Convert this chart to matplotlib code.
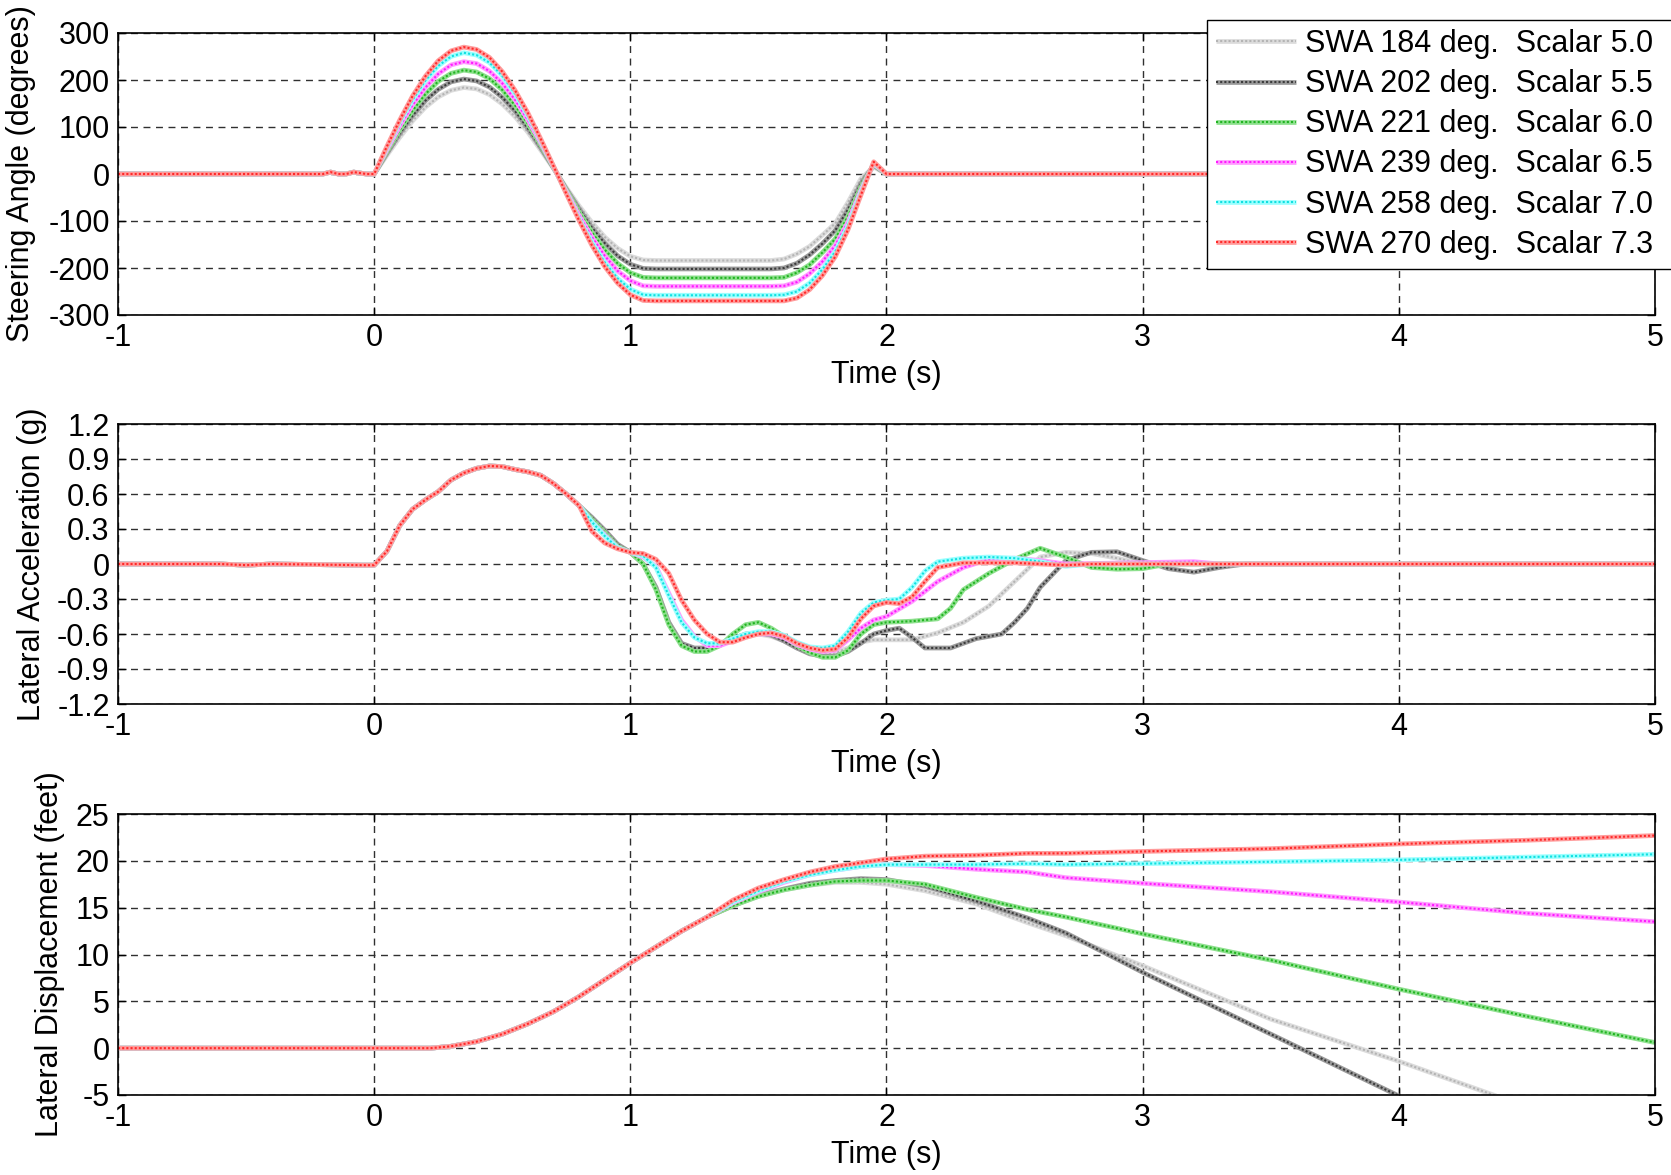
import numpy as np
import matplotlib
matplotlib.use('Agg')
import matplotlib.pyplot as plt

plt.rcParams['font.family'] = ['Liberation Sans', 'DejaVu Sans']
plt.rcParams['axes.unicode_minus'] = False

labels = ['SWA 184 deg.  Scalar 5.0', 'SWA 202 deg.  Scalar 5.5',
          'SWA 221 deg.  Scalar 6.0', 'SWA 239 deg.  Scalar 6.5',
          'SWA 258 deg.  Scalar 7.0', 'SWA 270 deg.  Scalar 7.3']
colors = ['#b4b4b4', '#3c3c3c', '#22b422', '#ff1aff', '#10e0e0', '#ff2a2a']
glow = ['#dcdcdc', '#9a9a9a', '#8ee08e', '#ff9cff', '#9cffff', '#ff9c9c']

# ---- steering wheel angle (deg) ----
swa_t = [-1.0, -0.2, -0.17, -0.14, -0.11, -0.08, -0.03,
         0.0, 0.05, 0.1, 0.15, 0.2, 0.25, 0.3, 0.35, 0.4, 0.45, 0.5, 0.55,
         0.6, 0.65, 0.7, 0.75, 0.8, 0.85, 0.9, 0.95, 1.0, 1.05, 1.1,
         1.55, 1.6, 1.65, 1.7, 1.75, 1.8, 1.85, 1.9, 1.95, 2.0, 5.0]
swa_pre = [0, 0, 4, 0, 0, 4, 0]
swa_184 = swa_pre + [0, 40, 78, 113, 142, 164, 178, 184, 181, 169, 149, 122, 89, 51, 12,
                     -29, -68, -103, -134, -158, -175, -183, -184,
                     -184, -181, -170, -154, -130, -105, -60, -10, 15, 0, 0]
swa_202 = swa_pre + [0, 44, 86, 124, 156, 180, 196, 202, 198, 185, 163, 134, 97, 56, 13,
                     -32, -74, -114, -147, -174, -192, -201, -202,
                     -202, -200, -190, -172, -148, -120, -75, -20, 18, 0, 0]
swa_221 = swa_pre + [0, 48, 94, 135, 170, 197, 214, 221, 217, 203, 179, 146, 107, 62, 14,
                     -34, -81, -124, -161, -190, -210, -220, -221,
                     -221, -220, -210, -193, -167, -138, -90, -28, 20, 0, 0]
swa_239 = swa_pre + [0, 52, 102, 147, 184, 213, 232, 239, 235, 219, 193, 158, 115, 67, 15,
                     -37, -88, -134, -174, -206, -227, -238, -239,
                     -239, -238, -230, -212, -186, -152, -102, -35, 22, 0, 0]
swa_258 = swa_pre + [0, 56, 110, 158, 199, 230, 250, 258, 253, 237, 209, 171, 124, 72, 16,
                     -40, -95, -145, -188, -222, -245, -257, -258,
                     -258, -257, -250, -232, -203, -165, -110, -40, 24, 0, 0]
swa_270 = swa_pre + [0, 59, 115, 166, 208, 241, 262, 270, 265, 248, 218, 178, 130, 75, 17,
                     -42, -99, -152, -197, -232, -257, -269, -270,
                     -270, -270, -264, -246, -216, -176, -118, -45, 26, 0, 0]

# ---- lateral acceleration (g) ----
acc_t0 = [-1.0, -0.6, -0.5, -0.4, -0.05, 0.0, 0.05, 0.1, 0.15, 0.2, 0.25, 0.3, 0.35,
          0.4, 0.45, 0.5, 0.55, 0.6, 0.65, 0.7, 0.75, 0.8]
acc_v0 = [0.0, 0.0, -0.01, 0.0, -0.01, -0.01, 0.11, 0.33, 0.47, 0.55, 0.62, 0.72, 0.78,
          0.82, 0.84, 0.835, 0.81, 0.79, 0.76, 0.69, 0.6, 0.5]

acc_t_184 = [0.85, 0.9, 0.95, 1.0, 1.05, 1.1, 1.15, 1.2, 1.25, 1.3, 1.35, 1.4, 1.45, 1.5,
             1.55, 1.6, 1.65, 1.7, 1.75, 1.8, 1.85, 1.9, 1.95, 2.0, 2.1, 2.2, 2.3, 2.4,
             2.5, 2.6, 2.7, 2.8, 2.9, 3.0, 5.0]
acc_184 = [0.38, 0.27, 0.16, 0.1, 0.0, -0.2, -0.5, -0.68, -0.73, -0.72, -0.69, -0.64, -0.61,
           -0.6, -0.62, -0.66, -0.72, -0.76, -0.77, -0.76, -0.72, -0.67, -0.65, -0.65, -0.65,
           -0.59, -0.5, -0.36, -0.15, 0.06, 0.1, 0.09, 0.05, 0.0, 0.0]
acc_t_202 = [0.85, 0.9, 0.95, 1.0, 1.05, 1.1, 1.15, 1.2, 1.25, 1.3, 1.35, 1.4, 1.45, 1.5,
             1.55, 1.6, 1.65, 1.7, 1.75, 1.8, 1.85, 1.9, 1.95, 2.0, 2.05, 2.1, 2.15, 2.25,
             2.35, 2.45, 2.5, 2.55, 2.6, 2.7, 2.8, 2.9, 3.0, 3.1, 3.2, 3.3, 3.4, 5.0]
acc_202 = [0.4, 0.29, 0.17, 0.1, 0.0, -0.2, -0.5, -0.68, -0.72, -0.72, -0.69, -0.64, -0.6,
           -0.59, -0.61, -0.66, -0.72, -0.77, -0.79, -0.79, -0.75, -0.68, -0.6, -0.57, -0.55,
           -0.63, -0.72, -0.72, -0.64, -0.6, -0.5, -0.38, -0.2, 0.03, 0.1, 0.105, 0.03,
           -0.04, -0.07, -0.03, 0.0, 0.0]
acc_t_221 = [0.85, 0.9, 0.95, 1.0, 1.05, 1.1, 1.15, 1.2, 1.25, 1.3, 1.35, 1.4, 1.45, 1.5,
             1.55, 1.6, 1.65, 1.7, 1.75, 1.8, 1.85, 1.9, 1.95, 2.0, 2.1, 2.2, 2.25, 2.3,
             2.4, 2.5, 2.6, 2.7, 2.8, 2.9, 3.0, 3.1, 5.0]
acc_221 = [0.38, 0.27, 0.15, 0.1, 0.0, -0.22, -0.52, -0.7, -0.75, -0.75, -0.7, -0.6, -0.52,
           -0.5, -0.55, -0.62, -0.7, -0.76, -0.8, -0.8, -0.74, -0.6, -0.52, -0.5, -0.49,
           -0.47, -0.38, -0.22, -0.08, 0.04, 0.135, 0.06, -0.03, -0.045, -0.04, 0.0, 0.0]
acc_t_239 = [0.85, 0.9, 0.95, 1.0, 1.05, 1.1, 1.15, 1.2, 1.25, 1.3, 1.35, 1.4, 1.45, 1.5,
             1.55, 1.6, 1.65, 1.7, 1.75, 1.8, 1.85, 1.9, 1.95, 2.0, 2.1, 2.2, 2.3, 2.4,
             2.5, 2.6, 2.7, 3.2, 3.3, 5.0]
acc_239 = [0.36, 0.25, 0.14, 0.1, 0.06, -0.02, -0.25, -0.48, -0.62, -0.7, -0.7, -0.66, -0.62,
           -0.6, -0.6, -0.63, -0.69, -0.73, -0.75, -0.74, -0.65, -0.55, -0.48, -0.45, -0.32,
           -0.15, -0.03, 0.04, 0.05, 0.03, 0.0, 0.02, 0.0, 0.0]
acc_t_258 = [0.85, 0.9, 0.95, 1.0, 1.05, 1.1, 1.15, 1.2, 1.25, 1.3, 1.35, 1.4, 1.45, 1.5,
             1.55, 1.6, 1.65, 1.7, 1.75, 1.8, 1.85, 1.9, 1.95, 2.0, 2.05, 2.1, 2.15, 2.2,
             2.3, 2.4, 2.5, 2.6, 2.7, 2.8, 5.0]
acc_258 = [0.36, 0.24, 0.14, 0.1, 0.07, -0.03, -0.27, -0.5, -0.63, -0.68, -0.68, -0.64, -0.6,
           -0.58, -0.58, -0.61, -0.67, -0.71, -0.72, -0.7, -0.58, -0.42, -0.33, -0.31, -0.3,
           -0.2, -0.06, 0.02, 0.05, 0.06, 0.05, 0.02, -0.02, 0.0, 0.0]
acc_t_270 = [0.85, 0.9, 0.95, 1.0, 1.05, 1.1, 1.15, 1.2, 1.25, 1.3, 1.35, 1.4, 1.45, 1.5,
             1.55, 1.6, 1.65, 1.7, 1.75, 1.8, 1.85, 1.9, 1.95, 2.0, 2.05, 2.1, 2.15, 2.2,
             2.3, 2.5, 2.6, 2.7, 2.8, 5.0]
acc_270 = [0.28, 0.18, 0.13, 0.1, 0.09, 0.04, -0.08, -0.31, -0.48, -0.6, -0.67, -0.67, -0.63,
           -0.6, -0.59, -0.62, -0.68, -0.72, -0.74, -0.73, -0.63, -0.47, -0.36, -0.33, -0.34,
           -0.28, -0.15, -0.03, 0.01, 0.01, 0.0, -0.01, 0.0, 0.0]

# ---- lateral displacement (feet) ----
disp_t0 = [-1.0, 0.22, 0.3, 0.4, 0.5, 0.6, 0.7, 0.8, 0.9, 1.0, 1.1, 1.2, 1.3]
disp_v0 = [0.0, 0.0, 0.2, 0.7, 1.5, 2.6, 3.9, 5.5, 7.3, 9.1, 10.8, 12.5, 14.0]

disp_t_184 = [1.4, 1.5, 1.6, 1.7, 1.8, 1.9, 2.0, 2.15, 2.35, 2.55, 2.7, 3.0, 3.5, 4.0, 4.38]
disp_184 = [15.2, 16.2, 16.9, 17.4, 17.7, 17.7, 17.5, 16.8, 15.4, 13.4, 12.0, 8.8, 3.1, -1.4, -5.1]
disp_t_202 = [1.4, 1.5, 1.6, 1.7, 1.8, 1.9, 2.0, 2.15, 2.35, 2.55, 2.7, 3.0, 3.5, 4.0]
disp_202 = [15.2, 16.3, 17.0, 17.6, 17.9, 18.1, 18.0, 17.3, 15.7, 13.9, 12.3, 8.1, 1.5, -5.1]
disp_t_221 = [1.4, 1.5, 1.6, 1.7, 1.8, 1.9, 2.0, 2.15, 2.35, 2.55, 2.7, 3.0, 3.5, 4.0, 4.5, 5.0]
disp_221 = [15.2, 16.2, 16.9, 17.4, 17.8, 17.9, 17.9, 17.5, 16.1, 14.8, 14.0, 12.2, 9.4, 6.3, 3.4, 0.6]
disp_t_239 = [1.4, 1.5, 1.6, 1.7, 1.8, 1.9, 2.0, 2.15, 2.35, 2.55, 2.7, 3.0, 3.5, 4.0, 4.5, 5.0]
disp_239 = [15.5, 16.7, 17.7, 18.5, 19.0, 19.4, 19.6, 19.5, 19.1, 18.8, 18.2, 17.6, 16.7, 15.6, 14.4, 13.5]
disp_t_258 = [1.4, 1.5, 1.6, 1.7, 1.8, 1.9, 2.0, 2.15, 2.35, 2.55, 2.7, 3.0, 3.5, 4.0, 4.5, 5.0]
disp_258 = [15.6, 16.8, 17.8, 18.5, 19.0, 19.4, 19.6, 19.6, 19.6, 19.7, 19.6, 19.7, 19.9, 20.1, 20.4, 20.7]
disp_t_270 = [1.4, 1.5, 1.6, 1.7, 1.8, 1.9, 2.0, 2.15, 2.35, 2.55, 2.7, 3.0, 3.5, 4.0, 4.5, 5.0]
disp_270 = [15.8, 17.1, 18.0, 18.8, 19.4, 19.8, 20.2, 20.5, 20.6, 20.8, 20.8, 21.0, 21.3, 21.8, 22.2, 22.7]

swa_series = [swa_184, swa_202, swa_221, swa_239, swa_258, swa_270]
acc_series = [(acc_t_184, acc_184), (acc_t_202, acc_202), (acc_t_221, acc_221),
              (acc_t_239, acc_239), (acc_t_258, acc_258), (acc_t_270, acc_270)]
disp_series = [(disp_t_184, disp_184), (disp_t_202, disp_202), (disp_t_221, disp_221),
               (disp_t_239, disp_239), (disp_t_258, disp_258), (disp_t_270, disp_270)]

FS = 22
W, H = 1671, 1175
fig = plt.figure(figsize=(W / 100, H / 100), dpi=100)

def make_axes(top, bottom):
    return fig.add_axes([118 / W, 1 - bottom / H, (1655 - 118) / W, (bottom - top) / H])

ax1 = make_axes(33, 315)
ax2 = make_axes(424, 704)
ax3 = make_axes(814, 1095)


def draw(ax, t, v, i):
    # light solid core with a dotted darker line on top (matlab dot-marker look)
    g, = ax.plot(t, v, color=glow[i], lw=3.4, solid_capstyle='butt')
    d, = ax.plot(t, v, color=colors[i], lw=1.5, ls=(0, (1.0, 1.0)))
    return (g, d)


handles = []
for i in range(6):
    handles.append(draw(ax1, swa_t, swa_series[i], i))
    t, v = acc_series[i]
    draw(ax2, acc_t0 + t, acc_v0 + v, i)
    t, v = disp_series[i]
    draw(ax3, disp_t0 + t, disp_v0 + v, i)

ax1.set_ylim(-300, 300)
ax1.set_yticks(np.arange(-300, 301, 100))
ax1.set_ylabel('Steering Angle (degrees)', fontsize=FS)
ax1.yaxis.set_label_coords(-0.0534, 0.5)

acc_ticks = [-1.2, -0.9, -0.6, -0.3, 0, 0.3, 0.6, 0.9, 1.2]
ax2.set_ylim(-1.2, 1.2)
ax2.set_yticks(acc_ticks)
ax2.set_yticklabels(['%g' % v for v in acc_ticks])
ax2.set_ylabel('Lateral Acceleration (g)', fontsize=FS)
ax2.yaxis.set_label_coords(-0.046, 0.5)

ax3.set_ylim(-5, 25)
ax3.set_yticks(np.arange(-5, 26, 5))
ax3.set_ylabel('Lateral Displacement (feet)', fontsize=FS)
ax3.yaxis.set_label_coords(-0.0345, 0.5)

for ax in (ax1, ax2, ax3):
    ax.set_xlim(-1, 5)
    ax.set_xticks(range(-1, 6))
    ax.set_xlabel('Time (s)', fontsize=FS)
    ax.xaxis.set_label_coords(0.5, -0.16)
    ax.grid(True, color='#303030', lw=1.0, ls=(0, (5, 4)))
    ax.tick_params(direction='in', length=6, width=1, labelsize=FS, pad=6,
                   top=True, right=True)
    for s in ax.spines.values():
        s.set_linewidth(1.2)

# legend box runs past the right edge of the figure, as in the original
leg = ax1.legend(handles, labels, loc='upper left', mode='expand',
                 bbox_to_anchor=(1207 / W, 1 - 20 / H, 520 / W, 0),
                 bbox_transform=fig.transFigure,
                 fontsize=FS, frameon=True, fancybox=False, framealpha=1,
                 edgecolor='black', borderaxespad=0, borderpad=0.3,
                 handlelength=2.6, handletextpad=0.3, labelspacing=0.33)
leg.get_frame().set_linewidth(1.0)

fig.savefig('out.png', dpi=100)
